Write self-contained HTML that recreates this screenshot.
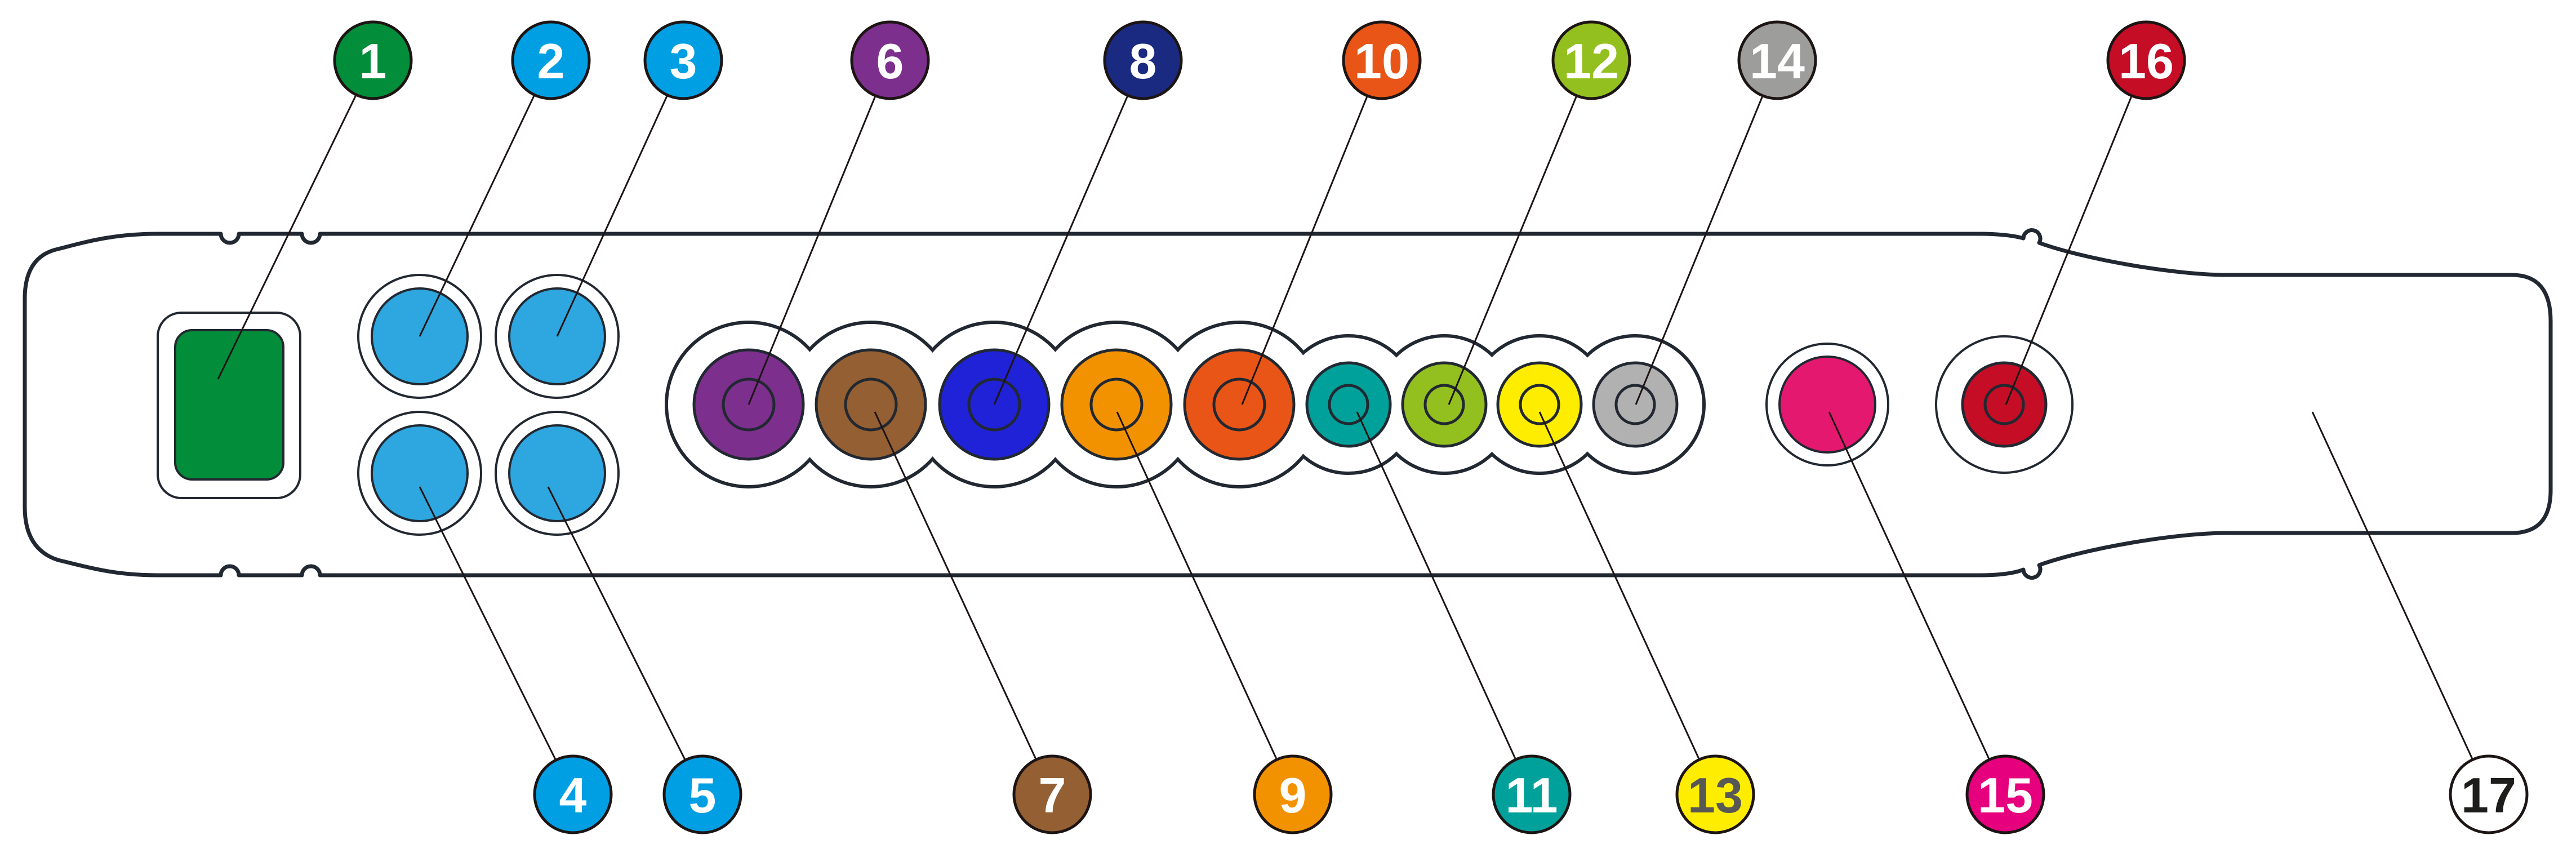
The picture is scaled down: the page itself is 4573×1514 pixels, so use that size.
<!DOCTYPE html>
<html><head><meta charset="utf-8"><style>
html,body{margin:0;padding:0;background:#fff;}
svg{display:block;}
text{font-family:"Liberation Sans",sans-serif;font-weight:bold;font-size:88px;text-anchor:middle;}
</style></head><body>
<svg id="fig" width="4573" height="1514" viewBox="0 0 4573 1514" xmlns="http://www.w3.org/2000/svg">
<path fill="#fff" stroke="#222831" stroke-width="7" stroke-linejoin="round"
d="M279 415 H392 a16 16 0 0 0 32 0 H536 a16 16 0 0 0 32 0 H3516 C3545 415 3575 418 3592 423 a15 15 0 1 1 28 8 C3700 460 3860 488 3954 488 H4459 Q4528 488 4528 570 V870 Q4528 946 4459 946 H3954 C3860 946 3700 974 3620 1003 a15 15 0 1 1 -28 8 C3575 1018 3545 1021 3516 1021 H568 a16 16 0 0 0 -32 0 H424 a16 16 0 0 0 -32 0 H279 C200 1021 150 1005 103 994 Q44 975 44 900 V530 Q44 455 103 442 C150 430 200 415 279 415 Z"/>
<rect x="280" y="555" width="253" height="329" rx="42" fill="#fff" stroke="#222831" stroke-width="4"/>
<rect x="311" y="586" width="192" height="265" rx="30" fill="#028d3a" stroke="#222831" stroke-width="4"/>
<g id="sockets"></g>
<g id="chain"></g>
<g id="leaders"></g>
<g id="labels"></g>
</svg>
<script>
const NS="http://www.w3.org/2000/svg";
const labelIds=["1","2","3","4","5","6","7","8","9","10","11","12","13","14","15","16","17"];
const labelX=[662,978,1213,1017,1247,1580,1868,2029,2295,2453,2719,2825,3045,3155,3560,3810,4418];
const labelTop=[1,1,1,0,0,1,0,1,0,1,0,1,0,1,0,1,0];
const labelColors=["#028d3a","#009fe3","#009fe3","#009fe3","#009fe3","#7d2f8e","#935f33","#1a2a80","#f39200","#e95516","#00a19a","#93c01f","#ffed00","#9d9d9c","#e6007e","#c50d26","#ffffff"];
const textColors=["#fff","#fff","#fff","#fff","#fff","#fff","#fff","#fff","#fff","#fff","#fff","#fff","#575756","#fff","#fff","#fff","#1d1d1b"];
const targetX=[387,745,989,745,973,1329,1553,1765,1983,2205,2409,2572,2733,2904,3247,3561,4105];
const targetY=[673,597,597,864,864,718,731,718,731,718,731,718,731,718,731,718,731];
function el(tag,attrs,parent){const e=document.createElementNS(NS,tag);for(const k in attrs)e.setAttribute(k,attrs[k]);parent.appendChild(e);return e;}
const sock=document.getElementById('sockets');
[[745,597],[989,597],[745,840],[989,840]].forEach((c,i)=>{
 const o=el('circle',{cx:c[0],cy:c[1],r:109,fill:'#fff',stroke:'#222831','stroke-width':4},sock);
 
 
 const n=el('circle',{cx:c[0],cy:c[1],r:85,fill:'#2ea6df',stroke:'#222831','stroke-width':4},sock);
 
 
});
const chain=document.getElementById('chain');
const bigX=[1329,1546,1765,1982,2200], bigC=["#7d2f8e","#935f33","#1f22d6","#f39200","#e95516"];
const smX=[2394,2564,2733,2903], smC=["#00a19a","#93c01f","#ffed00","#b1b1b1"];
const outs=bigX.map(x=>[x,145]).concat(smX.map(x=>[x,121]));
outs.forEach(o=>el('circle',{cx:o[0],cy:718,r:o[1],fill:'#fff',stroke:'#222831','stroke-width':8},chain));
outs.forEach(o=>el('circle',{cx:o[0],cy:718,r:o[1]-2,fill:'#fff'},chain));
const jacks=bigX.map((x,i)=>[x,97,45,bigC[i]]).concat(smX.map((x,i)=>[x,74,34,smC[i]]));
const jn=["6","7","8","9","10","11","12","13","14"];
jacks.forEach((j,i)=>{
 const c=el('circle',{cx:j[0],cy:718,r:j[1],fill:j[3],stroke:'#222831','stroke-width':5},chain);
 
 
 el('circle',{cx:j[0],cy:718,r:j[2],fill:'none',stroke:'#222831','stroke-width':5},chain);
});
el('circle',{cx:3244,cy:718,r:108,fill:'#fff',stroke:'#222831','stroke-width':4},sock);
const s15=el('circle',{cx:3244,cy:718,r:85,fill:'#e5186f',stroke:'#222831','stroke-width':4},sock);


el('circle',{cx:3558,cy:718,r:121,fill:'#fff',stroke:'#222831','stroke-width':4},sock);
const s16=el('circle',{cx:3558,cy:718,r:74,fill:'#c50d26',stroke:'#222831','stroke-width':5},sock);


el('circle',{cx:3558,cy:718,r:34,fill:'none',stroke:'#222831','stroke-width':5},sock);
const lead=document.getElementById('leaders'), lab=document.getElementById('labels');
labelIds.forEach((id,i)=>{
 const ly=labelTop[i]?107:1410;
 const l=el('line',{x1:labelX[i],y1:ly,x2:targetX[i],y2:targetY[i],stroke:'#1d1414','stroke-width':3},lead);
 
 
 const g=el('g',{},lab);
 
 
 el('circle',{cx:labelX[i],cy:ly,r:68,fill:labelColors[i],stroke:'#1d1414','stroke-width':5},g);
 const t=el('text',{x:labelX[i],y:ly+32,fill:textColors[i]},g);
 t.textContent=id;
});
</script>
</body></html>
